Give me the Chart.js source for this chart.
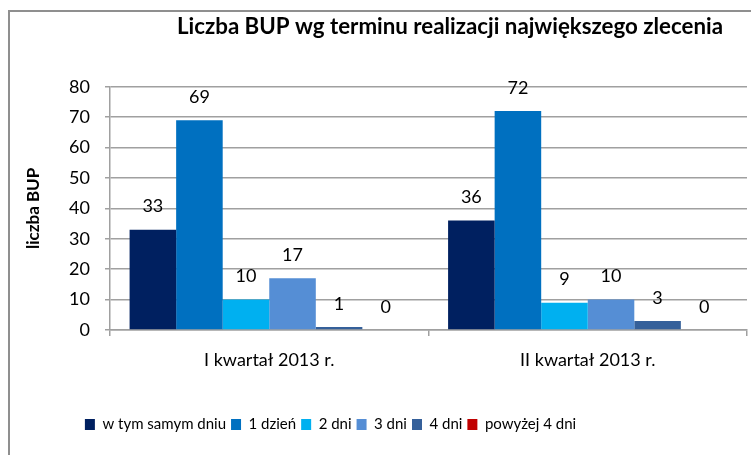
<!DOCTYPE html>
<html><head><meta charset="utf-8">
<script src="https://cdn.jsdelivr.net/npm/chart.js@4.4.0/dist/chart.umd.min.js"></script>
<style>
html,body{margin:0;padding:0;background:#fff;overflow:hidden;}
#wrap{position:relative;width:751px;height:455px;overflow:hidden;}
#frame{position:absolute;left:8px;top:10px;width:800px;height:500px;border:2px solid #8f8f8f;box-sizing:border-box;}
canvas{position:absolute;left:0;top:0;}
</style></head><body>
<div id="wrap"><div id="frame"></div><canvas id="c" width="751" height="455"></canvas></div>
<script>
const categories = ['I kwartał 2013 r.', 'II kwartał 2013 r.'];
const seriesNames = ['w tym samym dniu', '1 dzień', '2 dni', '3 dni', '4 dni', 'powyżej 4 dni'];
const sameDay = [33, 36];
const oneDay = [69, 72];
const twoDays = [10, 9];
const threeDays = [17, 10];
const fourDays = [1, 3];
const overFour = [0, 0];
const seriesValues = [sameDay, oneDay, twoDays, threeDays, fourDays, overFour];
const seriesColors = ['#002060', '#0070C0', '#00B0F0', '#558ED5', '#35609A', '#C00000'];
const chartTitle = 'Liczba BUP wg terminu realizacji największego zlecenia';
const yAxisTitle = 'liczba BUP';

Chart.defaults.font.family = 'Lato, "Open Sans", sans-serif';
Chart.defaults.color = '#000';

const posPlugin = {
  id: 'pos',
  afterLayout(chart) {
    const t = chart.titleBlock;
    if (t) { t.left = 150; t.right = 750; }
    const l = chart.legend;
    if (l) { l.left -= 48; l.right -= 48; }
  }
};

const valueLabels = {
  id: 'valueLabels',
  afterDatasetsDraw(chart) {
    const ctx = chart.ctx;
    ctx.save();
    ctx.font = '18px Lato, "Open Sans", sans-serif';
    ctx.fillStyle = '#000';
    ctx.textAlign = 'center';
    ctx.textBaseline = 'middle';
    chart.data.datasets.forEach((ds, i) => {
      const meta = chart.getDatasetMeta(i);
      if (meta.hidden) return;
      meta.data.forEach((bar, j) => {
        ctx.fillText(String(ds.data[j]), bar.x, bar.y - 23);
      });
    });
    ctx.restore();
  }
};

const gridColor = '#a0a0a0';

new Chart(document.getElementById('c'), {
  type: 'bar',
  data: {
    labels: categories,
    datasets: seriesNames.map((name, i) => ({
      label: name,
      data: seriesValues[i],
      backgroundColor: seriesColors[i],
      borderWidth: 0,
      categoryPercentage: 0.877,
      barPercentage: 1
    }))
  },
  options: {
    responsive: false,
    animation: false,
    layout: { padding: { left: 10, right: 4, top: 0, bottom: 13 } },
    plugins: {
      title: {
        display: true,
        text: chartTitle,
        font: { size: 22.3, weight: 'bold' },
        color: '#000',
        padding: { top: 13, bottom: 47 }
      },
      legend: {
        position: 'bottom',
        labels: {
          boxWidth: 10,
          boxHeight: 11,
          padding: 5,
          font: { size: 15 },
          color: '#000'
        }
      },
      tooltip: { enabled: false }
    },
    scales: {
      x: {
        grid: { drawOnChartArea: false, drawTicks: true, tickLength: 6, color: gridColor, lineWidth: 1.5, offset: true },
        border: { display: true, color: gridColor, width: 1.5 },
        ticks: { font: { size: 18 }, color: '#000', padding: 13 },
        afterFit(s) { s.height = 82; }
      },
      y: {
        min: 0, max: 80,
        ticks: { stepSize: 10, font: { size: 18 }, color: '#000', padding: 15 },
        grid: { color: gridColor, lineWidth: 1.5, tickLength: 5 },
        border: { display: true, color: gridColor, width: 1.5 },
        title: { display: true, text: yAxisTitle, font: { size: 17, weight: 'bold' }, color: '#000', padding: { top: 13, bottom: 0 } },
        afterFit(s) { s.width = 100; }
      }
    }
  },
  plugins: [posPlugin, valueLabels]
});
</script>
</body></html>
